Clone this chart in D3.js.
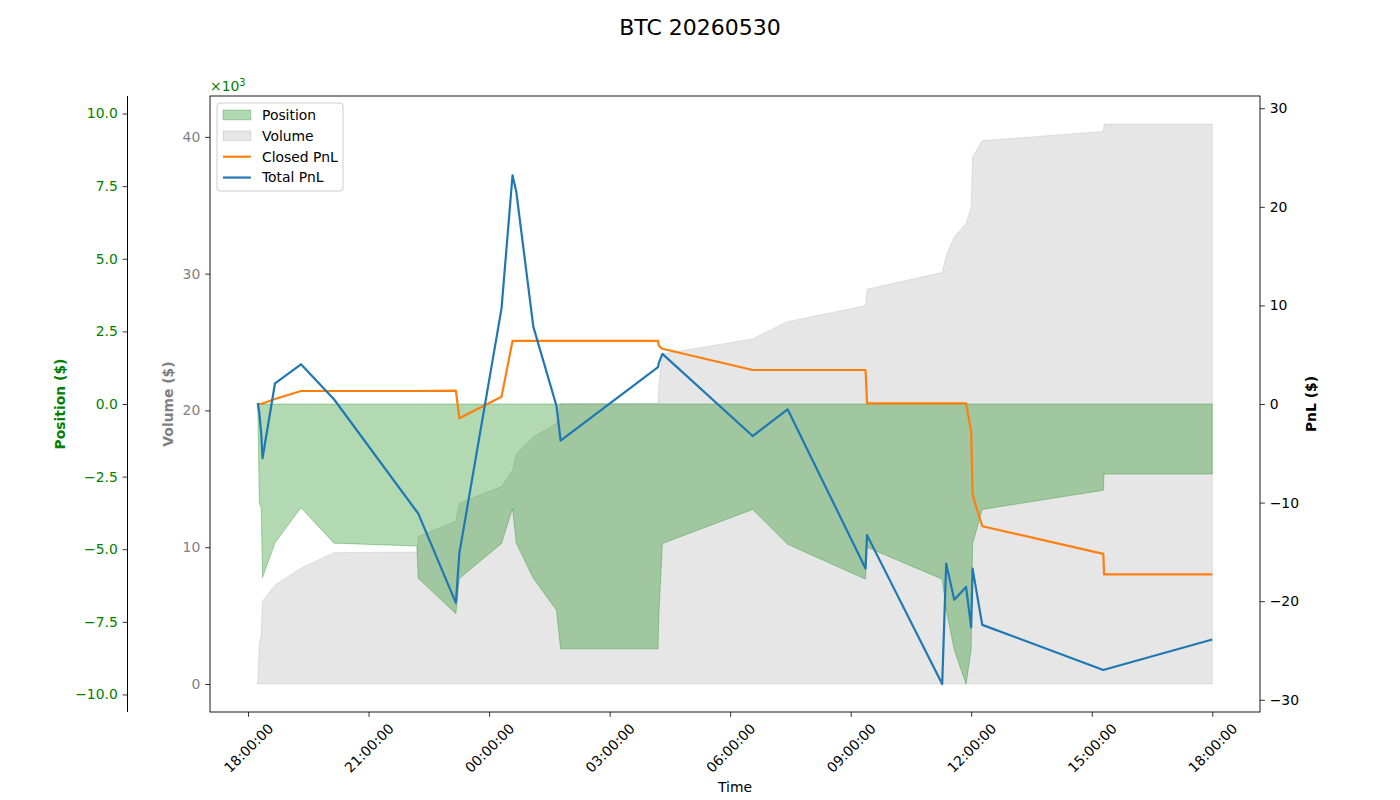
<!DOCTYPE html>
<html>
<head>
<meta charset="utf-8">
<script src="https://cdn.jsdelivr.net/npm/d3@7"></script>
<style>
    body { margin: 0; background: #fff; }
    text { font-family: "DejaVu Sans", sans-serif; }
</style>
</head>
<body>
<div class="chart-container"></div>
<script>
// event data
const times = [
    '2026-05-29 18:14:28', '2026-05-29 18:16:52', '2026-05-29 18:19:42', '2026-05-29 18:21:38',
    '2026-05-29 18:40:17', '2026-05-29 19:19:05', '2026-05-29 20:08:20', '2026-05-29 22:12:11',
    '2026-05-29 22:14:07', '2026-05-29 23:10:23', '2026-05-29 23:15:36', '2026-05-30 00:18:34',
    '2026-05-30 00:34:59', '2026-05-30 00:40:40', '2026-05-30 01:06:02', '2026-05-30 01:40:39',
    '2026-05-30 01:46:46', '2026-05-30 04:12:16', '2026-05-30 04:13:36', '2026-05-30 04:18:50',
    '2026-05-30 06:33:34', '2026-05-30 07:25:47', '2026-05-30 09:22:11', '2026-05-30 09:24:26',
    '2026-05-30 11:16:39', '2026-05-30 11:22:37', '2026-05-30 11:34:43', '2026-05-30 11:52:19',
    '2026-05-30 11:59:56', '2026-05-30 12:02:01', '2026-05-30 12:16:29', '2026-05-30 15:17:18',
    '2026-05-30 15:18:24', '2026-05-30 18:00:00'
];
const positions = [
    0, -3400, -3600, -5970, -4780, -3570, -4790, -4890, -6000, -7220, -6010, -4800,
    -3600, -4800, -6000, -7100, -8430, -8430, -7220, -4800, -3630, -4830, -6030, -4930,
    -6030, -7080, -8470, -9640, -8450, -4810, -3630, -2970, -2410, -2410
];
const volumes = [
    0, 2900, 3600, 6040, 7240, 8460, 9600, 9650, 10770, 11920, 13210, 14430,
    15650, 16820, 18050, 19060, 20500, 20530, 21860, 24130, 25230, 26490, 27660, 28860,
    30080, 31300, 32690, 33670, 34830, 38520, 39720, 40390, 40940, 40940
];
const closedPnl = [
    0, 0, 0, 0.05, 0.5, 1.32, 1.32, 1.32, 1.32, 1.35, -1.45, 0.74,
    6.4, 6.4, 6.4, 6.4, 6.4, 6.4, 5.9, 5.6, 3.45, 3.45, 3.45, 0.07,
    0.07, 0.07, 0.07, 0.07, -2.8, -9.24, -12.4, -15.2, -17.28, -17.28
];
const totalPnl = [
    0.1, -0.9, -3.0, -5.5, 2.1, 4.03, 0.48, -10.93, -11.1, -20.17, -15.13, 9.7,
    23.2, 21.5, 7.85, -0.2, -3.72, 3.73, 4.2, 5.08, -3.25, -0.54, -16.68, -13.3,
    -28.4, -16.2, -19.85, -18.55, -22.66, -16.7, -22.4, -26.98, -26.95, -23.88
];
const positionTicks = [-10000, -7500, -5000, -2500, 0, 2500, 5000, 7500, 10000];
const volumeTicks = [0, 10000, 20000, 30000, 40000];
const pnlTicks = [-30, -20, -10, 0, 10, 20, 30];

const parseTime = d3.timeParse('%Y-%m-%d %H:%M:%S');
const data = times.map((t, i) => ({
    t: parseTime(t),
    pos: positions[i],
    vol: volumes[i],
    closed: closedPnl[i],
    total: totalPnl[i]
}));

const svg_width = 1400;
const svg_height = 800;
const plot = { left: 210, right: 1260, top: 96, bottom: 712 };
const fontSize = 13.9;
const tickLen = 4.86;

const svg = d3.select('.chart-container')
    .append('svg')
    .attr('width', svg_width)
    .attr('height', svg_height);

// scales
const tExtent = d3.extent(data, d => d.t);
const tPad = (tExtent[1] - tExtent[0]) * 0.05;
const xScale = d3.scaleTime()
    .domain([new Date(+tExtent[0] - tPad), new Date(+tExtent[1] + tPad)])
    .range([plot.left, plot.right]);

const posMax = d3.max(data, d => Math.abs(d.pos)) * 1.1;
const yPos = d3.scaleLinear([-posMax, posMax], [plot.bottom, plot.top]);

const volMax = d3.max(data, d => d.vol);
const yVol = d3.scaleLinear([-volMax * 0.05, volMax * 1.05], [plot.bottom, plot.top]);

const pnlMax = d3.max(data, d => Math.max(Math.abs(d.total), Math.abs(d.closed))) * 1.1;
const yPnl = d3.scaleLinear([-pnlMax, pnlMax], [plot.bottom, plot.top]);

// title
svg.append('text')
    .attr('x', 700)
    .attr('y', 35)
    .attr('text-anchor', 'middle')
    .style('font-size', '22px')
    .text('BTC 20260530');

// volume fill
svg.append('path')
    .datum(data)
    .attr('d', d3.area().x(d => xScale(d.t)).y0(yVol(0)).y1(d => yVol(d.vol)))
    .style('fill', '#808080')
    .style('fill-opacity', 0.2)
    .style('stroke', '#808080')
    .style('stroke-opacity', 0.2)
    .style('stroke-width', 1);

// position fill
svg.append('path')
    .datum(data)
    .attr('d', d3.area().x(d => xScale(d.t)).y0(yPos(0)).y1(d => yPos(d.pos)))
    .style('fill', '#008000')
    .style('fill-opacity', 0.3)
    .style('stroke', '#008000')
    .style('stroke-opacity', 0.3)
    .style('stroke-width', 1);

// pnl lines
const lineClosed = d3.line().x(d => xScale(d.t)).y(d => yPnl(d.closed));
const lineTotal = d3.line().x(d => xScale(d.t)).y(d => yPnl(d.total));
svg.append('path')
    .datum(data)
    .attr('d', lineClosed)
    .style('fill', 'none')
    .style('stroke', '#ff7f0e')
    .style('stroke-width', 2.2)
    .style('stroke-linejoin', 'round');
svg.append('path')
    .datum(data)
    .attr('d', lineTotal)
    .style('fill', 'none')
    .style('stroke', '#1f77b4')
    .style('stroke-width', 2.2)
    .style('stroke-linejoin', 'round');

// frame
svg.append('rect')
    .attr('x', plot.left)
    .attr('y', plot.top)
    .attr('width', plot.right - plot.left)
    .attr('height', plot.bottom - plot.top)
    .style('fill', 'none')
    .style('stroke', '#000')
    .style('stroke-width', 0.9);

const minus = s => s.replace('-', '\u2212');

// volume axis (left frame)
const volAxis = svg.append('g')
    .attr('transform', `translate(${plot.left},0)`)
    .call(d3.axisLeft(yVol).tickValues(volumeTicks).tickSize(tickLen).tickPadding(4.86)
        .tickFormat(d => d3.format('d')(d / 1000)));
volAxis.select('.domain').remove();
volAxis.selectAll('text').style('fill', '#808080').style('font-size', fontSize + 'px');
volAxis.selectAll('line').style('stroke', '#000').style('stroke-width', 0.8);

// position axis (offset spine)
const posAxis = svg.append('g')
    .attr('transform', 'translate(127.5,0)')
    .call(d3.axisLeft(yPos).tickValues(positionTicks).tickSize(tickLen).tickSizeOuter(0).tickPadding(4.86)
        .tickFormat(d => minus(d3.format('.1f')(d / 1000))));
posAxis.select('.domain')
    .attr('d', `M0,${plot.top}V${plot.bottom}`)
    .style('stroke', '#000');
posAxis.selectAll('text').style('fill', '#008000').style('font-size', fontSize + 'px');
posAxis.selectAll('line').style('stroke', '#000').style('stroke-width', 0.8);

// pnl axis (right)
const pnlAxis = svg.append('g')
    .attr('transform', `translate(${plot.right},0)`)
    .call(d3.axisRight(yPnl).tickValues(pnlTicks).tickSize(tickLen).tickPadding(4.86)
        .tickFormat(d => minus(d3.format('d')(d))));
pnlAxis.select('.domain').remove();
pnlAxis.selectAll('text').style('fill', '#000').style('font-size', fontSize + 'px');
pnlAxis.selectAll('line').style('stroke', '#000').style('stroke-width', 0.8);

// x axis
const xTicks = d3.range(0, 9).map(i => new Date(2026, 4, 29, 18 + 3 * i));
const xAxis = svg.append('g')
    .attr('transform', `translate(0,${plot.bottom})`)
    .call(d3.axisBottom(xScale).tickValues(xTicks).tickSize(tickLen).tickFormat(d3.timeFormat('%H:%M:%S')));
xAxis.select('.domain').remove();
xAxis.selectAll('line').style('stroke', '#000').style('stroke-width', 0.8);
xAxis.selectAll('text')
    .style('font-size', fontSize + 'px')
    .style('fill', '#000')
    .attr('y', 0)
    .attr('dy', null)
    .attr('text-anchor', 'middle')
    .attr('dominant-baseline', 'central')
    .attr('transform', 'translate(0,36) rotate(-45)');

// axis labels
svg.append('text')
    .attr('transform', 'translate(65,404) rotate(-90)')
    .attr('text-anchor', 'middle')
    .style('font-size', fontSize + 'px')
    .style('font-weight', 'bold')
    .style('fill', '#008000')
    .text('Position ($)');
svg.append('text')
    .attr('transform', 'translate(173,404) rotate(-90)')
    .attr('text-anchor', 'middle')
    .style('font-size', fontSize + 'px')
    .style('font-weight', 'bold')
    .style('fill', '#808080')
    .text('Volume ($)');
svg.append('text')
    .attr('transform', 'translate(1316,404) rotate(-90)')
    .attr('text-anchor', 'middle')
    .style('font-size', fontSize + 'px')
    .style('font-weight', 'bold')
    .style('fill', '#000')
    .text('PnL ($)');
svg.append('text')
    .attr('x', (plot.left + plot.right) / 2)
    .attr('y', 792)
    .attr('text-anchor', 'middle')
    .style('font-size', fontSize + 'px')
    .text('Time');

// offset text
const offset = svg.append('text')
    .attr('x', 210)
    .attr('y', 91)
    .style('font-size', fontSize + 'px')
    .style('fill', '#008000');
offset.append('tspan').text('\u00d710');
offset.append('tspan').attr('dy', -5).style('font-size', '9.7px').text('3');

// legend
const legend = svg.append('g').attr('transform', 'translate(217,103)');
legend.append('rect')
    .attr('width', 126)
    .attr('height', 88)
    .attr('rx', 3)
    .style('fill', '#fff')
    .style('fill-opacity', 0.8)
    .style('stroke', '#ccc')
    .style('stroke-width', 1);
const legendItems = [
    { label: 'Position', kind: 'patch', color: '#008000', opacity: 0.3 },
    { label: 'Volume', kind: 'patch', color: '#808080', opacity: 0.2 },
    { label: 'Closed PnL', kind: 'line', color: '#ff7f0e' },
    { label: 'Total PnL', kind: 'line', color: '#1f77b4' }
];
legendItems.forEach((item, i) => {
    const cy = 12 + i * 20.85;
    if (item.kind === 'patch') {
        legend.append('rect')
            .attr('x', 6)
            .attr('y', cy - 4.9)
            .attr('width', 27.8)
            .attr('height', 9.7)
            .style('fill', item.color)
            .style('fill-opacity', item.opacity)
            .style('stroke', item.color)
            .style('stroke-opacity', item.opacity);
    } else {
        legend.append('line')
            .attr('x1', 6)
            .attr('x2', 33.8)
            .attr('y1', cy)
            .attr('y2', cy)
            .style('stroke', item.color)
            .style('stroke-width', 2.2);
    }
    legend.append('text')
        .attr('x', 45)
        .attr('y', cy)
        .attr('dy', '0.35em')
        .style('font-size', fontSize + 'px')
        .text(item.label);
});
</script>
</body>
</html>
